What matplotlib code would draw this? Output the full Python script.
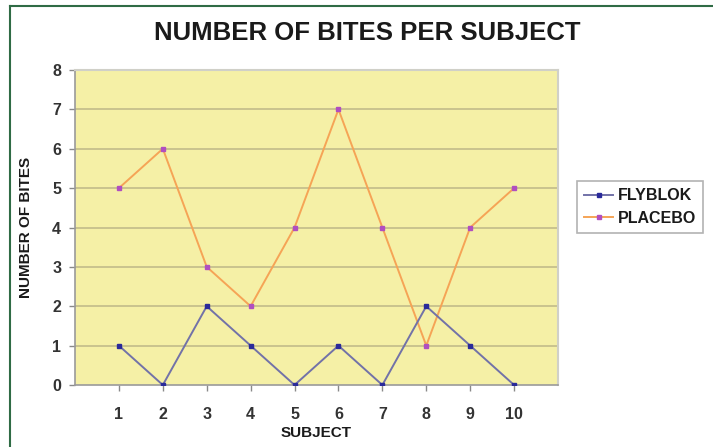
import matplotlib
matplotlib.use('Agg')
import matplotlib.pyplot as plt
from matplotlib.lines import Line2D

# Data
subjects = [1, 2, 3, 4, 5, 6, 7, 8, 9, 10]
flyblok = [1, 0, 2, 1, 0, 1, 0, 2, 1, 0]
placebo = [5, 6, 3, 2, 4, 7, 4, 1, 4, 5]

plt.rcParams['font.family'] = ['Liberation Sans', 'DejaVu Sans']

W, H = 713, 447
fig = plt.figure(figsize=(W / 100, H / 100), dpi=100)
fig.patch.set_facecolor('white')

# plot area in pixels: left 75, right 558, top 70, bottom 385
ax = fig.add_axes([75 / W, 1 - 385 / H, (558 - 75) / W, (385 - 70) / H])
ax.set_facecolor('#f5f0a6')

for y in range(1, 8):
    ax.axhline(y, color='#c9c38e', linewidth=1.4, zorder=1)

ax.plot(subjects, placebo, color='#f5a456', linewidth=1.4, zorder=3,
        marker='s', markersize=3.2, markerfacecolor='#b04ec0', markeredgecolor='#b04ec0')
ax.plot(subjects, flyblok, color='#7272a8', linewidth=1.4, zorder=3,
        marker='s', markersize=3.2, markerfacecolor='#2a2a9a', markeredgecolor='#2a2a9a')

ax.set_xlim(0, 11)
ax.set_ylim(0, 8)
ax.set_xticks(subjects)
ax.set_yticks(range(0, 9))
ax.tick_params(axis='both', labelsize=11.5, colors='#8a8a8a', labelcolor='#333333',
               length=4, width=1)
for lbl in ax.get_xticklabels() + ax.get_yticklabels():
    lbl.set_fontweight('bold')
ax.tick_params(axis='x', pad=12)
ax.tick_params(axis='y', pad=6)

for side in ['left', 'bottom']:
    ax.spines[side].set_color('#9a9a9a')
    ax.spines[side].set_linewidth(1.2)
for side in ['top', 'right']:
    ax.spines[side].set_color('#d0d0c8')
    ax.spines[side].set_linewidth(1.5)

ax.set_xlabel('SUBJECT', fontsize=11, fontweight='bold', color='#1a1a1a', labelpad=3)
ax.set_ylabel('NUMBER OF BITES', fontsize=11, fontweight='bold', color='#1a1a1a', labelpad=14)

fig.text(367 / W, 1 - 33 / H, 'NUMBER OF BITES PER SUBJECT', ha='center', va='center',
         fontsize=18.5, fontweight='bold', color='#1a1a1a')

handles = [
    Line2D([], [], color='#7272a8', linewidth=1.4, marker='s', markersize=3.2,
           markerfacecolor='#2a2a9a', markeredgecolor='#2a2a9a'),
    Line2D([], [], color='#f5a456', linewidth=1.4, marker='s', markersize=3.2,
           markerfacecolor='#b04ec0', markeredgecolor='#b04ec0'),
]
leg = fig.legend(handles, ['FLYBLOK', 'PLACEBO'], loc='center left',
                 bbox_to_anchor=(569 / W, 1 - 207 / H), frameon=True, fancybox=False,
                 handlelength=1.8, handletextpad=0.3, borderpad=0.45,
                 labelspacing=0.45, prop={'weight': 'bold', 'size': 11.5})
leg.get_frame().set_edgecolor('#a0a0a0')
leg.get_frame().set_linewidth(1.2)
for t in leg.get_texts():
    t.set_color('#1a1a1a')

# green frame on top and left edges
fig.add_artist(Line2D([9.5 / W, 9.5 / W], [0, 1 - 6 / H], color='#2f6b45', linewidth=1.5))
fig.add_artist(Line2D([9.5 / W, 1], [1 - 6 / H, 1 - 6 / H], color='#2f6b45', linewidth=1.5))

fig.savefig('out.png', dpi=100)
